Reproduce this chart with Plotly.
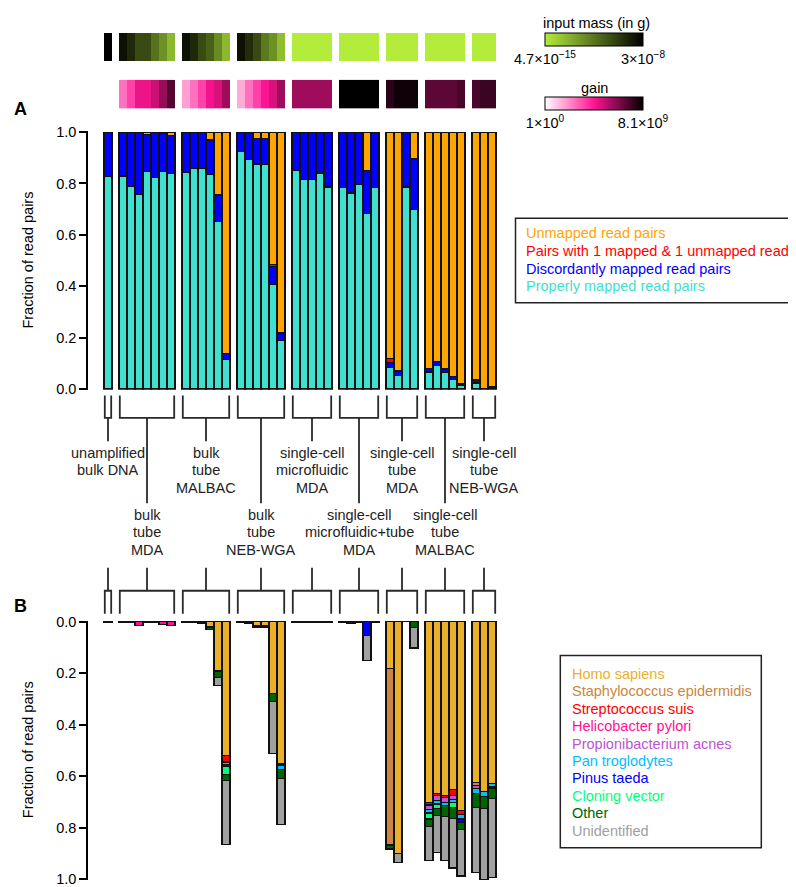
import numpy as np
import plotly.graph_objects as go

W, H = 796, 887
FONT = "Liberation Sans, Arial, Helvetica, sans-serif"
FS = 14.5

# ---------------- data ----------------
group_labels = [
    ["unamplified", "bulk DNA"],
    ["bulk", "tube", "MDA"],
    ["bulk", "tube", "MALBAC"],
    ["bulk", "tube", "NEB-WGA"],
    ["single-cell", "microfluidic", "MDA"],
    ["single-cell", "microfluidic+tube", "MDA"],
    ["single-cell", "tube", "MDA"],
    ["single-cell", "tube", "MALBAC"],
    ["single-cell", "tube", "NEB-WGA"],
]
group_sizes = [1, 7, 6, 6, 5, 5, 4, 5, 3]

# Panel A: fraction of read pairs by mapping status (stack bottom -> top)
properly = [0.827,
            0.829, 0.789, 0.758, 0.847, 0.822, 0.847, 0.838,
            0.844, 0.859, 0.859, 0.835, 0.652, 0.115,
            0.925, 0.893, 0.876, 0.873, 0.407, 0.189,
            0.852, 0.816, 0.815, 0.841, 0.786,
            0.784, 0.763, 0.795, 0.682, 0.784,
            0.083, 0.054, 0.786, 0.700,
            0.066, 0.092, 0.064, 0.038, 0.015,
            0.023, 0.002, 0.005]
discordant = [0.173,
              0.171, 0.211, 0.242, 0.145, 0.178, 0.148, 0.150,
              0.153, 0.138, 0.138, 0.134, 0.102, 0.022,
              0.075, 0.107, 0.100, 0.103, 0.069, 0.028,
              0.148, 0.184, 0.185, 0.159, 0.214,
              0.216, 0.234, 0.205, 0.168, 0.216,
              0.019, 0.016, 0.214, 0.195,
              0.013, 0.014, 0.013, 0.011, 0.004,
              0.012, 0.001, 0.005]
pairs_one = [0,
             0, 0, 0, 0, 0, 0, 0,
             0, 0, 0, 0, 0.002, 0.001,
             0, 0, 0, 0, 0.010, 0.001,
             0, 0, 0, 0, 0,
             0, 0, 0, 0, 0,
             0.017, 0.001, 0, 0,
             0.001, 0.001, 0.001, 0.001, 0.001,
             0.001, 0, 0]
unmapped = [0,
            0, 0, 0, 0.008, 0, 0.005, 0.012,
            0.003, 0.003, 0.003, 0.031, 0.244, 0.862,
            0, 0, 0.024, 0.024, 0.514, 0.782,
            0, 0, 0, 0, 0,
            0, 0.003, 0, 0.150, 0,
            0.881, 0.929, 0, 0.105,
            0.920, 0.893, 0.922, 0.950, 0.980,
            0.964, 0.997, 0.990]

# Panel B: fraction of read pairs by identified organism (stack top -> down)
homo = [0.001,
        0.001, 0.001, 0, 0.001, 0.001, 0, 0,
        0.002, 0.003, 0.005, 0.020, 0.190, 0.519,
        0.003, 0.004, 0.013, 0.013, 0.280, 0.553,
        0.002, 0.002, 0.002, 0.002, 0.002,
        0.002, 0.005, 0.002, 0, 0.002,
        0.183, 0.900, 0, 0,
        0.702, 0.666, 0.674, 0.653, 0.734,
        0.625, 0.658, 0.628]
staph = [0,
         0, 0, 0, 0, 0, 0, 0,
         0, 0, 0, 0, 0, 0,
         0, 0, 0, 0, 0, 0,
         0, 0, 0, 0, 0,
         0, 0, 0, 0, 0,
         0.684, 0, 0, 0,
         0, 0, 0, 0, 0,
         0.010, 0, 0]
strep = [0,
         0, 0, 0, 0, 0, 0, 0,
         0, 0, 0, 0, 0, 0.026,
         0, 0, 0, 0, 0, 0,
         0, 0, 0, 0, 0,
         0, 0, 0, 0, 0,
         0, 0, 0, 0,
         0.010, 0.010, 0.009, 0.021, 0.016,
         0, 0, 0]
heli = [0,
        0, 0, 0.013, 0, 0, 0.012, 0.015,
        0, 0, 0, 0, 0, 0,
        0, 0, 0, 0, 0, 0,
        0, 0, 0, 0, 0,
        0, 0, 0, 0, 0,
        0, 0, 0, 0,
        0, 0, 0, 0, 0,
        0, 0, 0]
prop = [0,
        0, 0, 0, 0, 0, 0, 0,
        0, 0, 0, 0, 0, 0,
        0, 0, 0, 0, 0, 0.006,
        0, 0, 0, 0, 0,
        0, 0, 0, 0, 0,
        0, 0, 0, 0,
        0.018, 0.019, 0.019, 0.016, 0,
        0.013, 0, 0]
pan = [0,
       0, 0, 0, 0, 0, 0, 0,
       0, 0, 0, 0, 0.004, 0.010,
       0, 0, 0, 0, 0, 0.014,
       0, 0, 0, 0, 0,
       0, 0, 0, 0, 0,
       0, 0, 0, 0,
       0.013, 0.013, 0.013, 0.012, 0.016,
       0.018, 0.022, 0.014]
pinus = [0,
         0, 0, 0, 0, 0, 0, 0,
         0, 0, 0, 0, 0, 0.006,
         0, 0, 0, 0, 0, 0,
         0, 0, 0, 0, 0,
         0, 0, 0, 0.053, 0,
         0, 0, 0, 0,
         0, 0, 0, 0, 0.012,
         0, 0, 0.006]
cloning = [0,
           0, 0, 0, 0, 0, 0, 0,
           0, 0, 0, 0, 0, 0.032,
           0, 0, 0, 0, 0, 0,
           0, 0, 0, 0, 0,
           0, 0, 0, 0, 0,
           0, 0, 0, 0,
           0.023, 0.016, 0, 0.019, 0,
           0, 0, 0]
other = [0,
         0, 0, 0, 0, 0, 0, 0,
         0.001, 0, 0.002, 0.009, 0.022, 0.025,
         0, 0.002, 0.007, 0.007, 0.029, 0.037,
         0, 0, 0, 0, 0,
         0, 0, 0, 0, 0,
         0.016, 0, 0, 0.023,
         0.031, 0.028, 0.042, 0.042, 0.028,
         0.055, 0.044, 0.038]
unident = [0,
           0, 0, 0, 0, 0, 0, 0,
           0, 0, 0, 0, 0.031, 0.247,
           0, 0, 0, 0, 0.204, 0.177,
           0, 0, 0, 0, 0,
           0, 0, 0, 0.097, 0,
           0, 0.034, 0, 0.079,
           0.130, 0.145, 0.172, 0.194, 0.182,
           0.252, 0.276, 0.309]

# Sample annotations (colour strips)
input_mass = [3e-8,
              1e-8, 2e-9, 2e-10, 2e-10, 1.5e-11, 2e-12, 1.5e-13,
              1e-8, 2e-9, 2e-10, 5e-11, 3e-12, 1.5e-13,
              1e-8, 1.5e-9, 2e-10, 1e-11, 2e-12, 1e-13,
              4.7e-15, 4.7e-15, 4.7e-15, 4.7e-15, 4.7e-15,
              4.7e-15, 4.7e-15, 4.7e-15, 4.7e-15, 4.7e-15,
              4.7e-15, 4.7e-15, 4.7e-15, 4.7e-15,
              4.7e-15, 4.7e-15, 4.7e-15, 4.7e-15, 4.7e-15,
              4.7e-15, 4.7e-15, 4.7e-15]
gain = [None,
        1e3, 1e4, 2e5, 2e5, 1e6, 1e7, 2e8,
        1e2, 1e3, 1e4, 1.5e5, 5e5, 7e6,
        6e1, 1e3, 1e4, 1e5, 5e5, 7e6,
        7e6, 7e6, 7e6, 7e6, 7e6,
        8.1e9, 8.1e9, 8.1e9, 8.1e9, 8.1e9,
        1.3e9, 4e9, 4e9, 4e9,
        1.3e8, 1.3e8, 1.3e8, 1.3e8, 3e8,
        3e8, 6e8, 6e8]
mass_range = [4.7e-15, 3e-8]
gain_range = [1e0, 8.1e9]
mass_ticktext = ["4.7\u00d710<sup>\u221215</sup>", "3\u00d710<sup>\u22128</sup>"]
gain_ticktext = ["1\u00d710<sup>0</sup>", "8.1\u00d710<sup>9</sup>"]

yticks = [0.0, 0.2, 0.4, 0.6, 0.8, 1.0]
ytick_labels = ["0.0", "0.2", "0.4", "0.6", "0.8", "1.0"]

series_A = [
    ("Properly mapped read pairs", properly, "#40E0D0"),
    ("Discordantly mapped read pairs", discordant, "#0000FF"),
    ("Pairs with 1 mapped & 1 unmapped read", pairs_one, "#FF0000"),
    ("Unmapped read pairs", unmapped, "#FFA500"),
]
series_B = [
    ("Homo sapiens", homo, "#EBB02B"),
    ("Staphylococcus epidermidis", staph, "#CD853F"),
    ("Streptococcus suis", strep, "#FF0000"),
    ("Helicobacter pylori", heli, "#FF1493"),
    ("Propionibacterium acnes", prop, "#BA55D3"),
    ("Pan troglodytes", pan, "#00BFFF"),
    ("Pinus taeda", pinus, "#0000FF"),
    ("Cloning vector", cloning, "#00FF7F"),
    ("Other", other, "#006400"),
    ("Unidentified", unident, "#A0A0A0"),
]


# ---------------- layout helpers ----------------
def px(x):
    return x / W


def py(y):
    return 1 - y / H


GAP = 0.875
lefts, spans = [], []
idx = 0
for k, n in enumerate(group_sizes):
    s = idx + k * GAP
    spans.append((s, s + n))
    lefts += [s + j for j in range(n)]
    idx += n
centers = [l + 0.5 for l in lefts]

# heatmap brick edges with transparent gap cells between groups
edges, z_mass, z_gain = [], [], []
idx = 0
for k, n in enumerate(group_sizes):
    s, e = spans[k]
    for j in range(n):
        edges.append(s + j)
        z_mass.append(float(np.log10(input_mass[idx + j])))
        g = gain[idx + j]
        z_gain.append(None if g is None else float(np.log10(g)))
    if k < len(group_sizes) - 1:
        edges.append(e)
        z_mass.append(None)
        z_gain.append(None)
    idx += n
edges.append(spans[-1][1])

X_RANGE = [-2, 49.25]
X_DOMAIN = [px(80), px(490)]
A_RANGE = [-0.003, 1.004]
A_DOMAIN = [py(380 - A_RANGE[0] * 261), py(380 - A_RANGE[1] * 261)]
B_RANGE = [1.004, -0.004]
B_DOMAIN = [py(616.5 + B_RANGE[0] * 261.5), py(616.5 + B_RANGE[1] * 261.5)]

LINE = dict(color="#111111", width=1.2)
fig = go.Figure()

for name, vals, col in series_A:
    fig.add_trace(go.Bar(x=centers, y=vals, width=1, name=name,
                         marker=dict(color=col, line=LINE),
                         xaxis="x", yaxis="y", showlegend=False))
for name, vals, col in series_B:
    fig.add_trace(go.Bar(x=centers, y=vals, width=1, name=name,
                         marker=dict(color=col, line=LINE),
                         xaxis="x2", yaxis="y2", showlegend=False))

fig.add_trace(go.Heatmap(x=edges, y=[0], z=[z_mass], coloraxis="coloraxis",
                         xaxis="x3", yaxis="y3", hoverinfo="skip"))
fig.add_trace(go.Heatmap(x=edges, y=[0], z=[z_gain], coloraxis="coloraxis2",
                         xaxis="x4", yaxis="y4", hoverinfo="skip"))

mlo, mhi = np.log10(mass_range[0]), np.log10(mass_range[1])
glo, ghi = np.log10(gain_range[0]), np.log10(gain_range[1])

cb_common = dict(orientation="h", x=px(586), xanchor="center", yanchor="top",
                 len=98, lenmode="pixels", thickness=13, thicknessmode="pixels",
                 outlinewidth=1, outlinecolor="black", ticks="", xpad=0, ypad=0,
                 tickfont=dict(size=FS, family=FONT, color="black"))

yaxis_common = dict(showline=True, linecolor="black", linewidth=1.5,
                    ticks="outside", ticklen=7, tickwidth=1.5, tickcolor="black",
                    tickvals=yticks, ticktext=ytick_labels,
                    tickfont=dict(size=FS, family=FONT, color="black"),
                    showgrid=False, zeroline=False)

fig.update_layout(
    width=W, height=H, margin=dict(l=0, r=0, t=0, b=0),
    paper_bgcolor="white", plot_bgcolor="rgba(0,0,0,0)",
    barmode="stack", showlegend=False,
    font=dict(family=FONT, size=FS, color="#222222"),
    xaxis=dict(domain=X_DOMAIN, range=X_RANGE, visible=False, anchor="y"),
    yaxis=dict(domain=A_DOMAIN, range=A_RANGE, anchor="x", **yaxis_common),
    xaxis2=dict(domain=X_DOMAIN, range=X_RANGE, visible=False, anchor="y2"),
    yaxis2=dict(domain=B_DOMAIN, range=B_RANGE, anchor="x2", **yaxis_common),
    xaxis3=dict(domain=X_DOMAIN, range=X_RANGE, visible=False, anchor="y3"),
    yaxis3=dict(domain=[py(46.7), py(18.3)], visible=False, anchor="x3"),
    xaxis4=dict(domain=X_DOMAIN, range=X_RANGE, visible=False, anchor="y4"),
    yaxis4=dict(domain=[py(95.0), py(65.7)], visible=False, anchor="x4"),
    coloraxis=dict(colorscale=[[0, "#B3EC3B"], [1, "#000000"]], cmin=mlo, cmax=mhi,
                   colorbar=dict(y=py(18.3), tickvals=[mlo, mhi],
                                 ticktext=mass_ticktext, **cb_common)),
    coloraxis2=dict(colorscale=[[0, "#FFFFFF"], [0.5, "#FF1493"], [1, "#000000"]],
                    cmin=glo, cmax=ghi,
                    colorbar=dict(y=py(83.3), tickvals=[glo, ghi],
                                  ticktext=gain_ticktext, **cb_common)),
)

shapes, annotations = [], []
BR = dict(color="#2a2a2a", width=1.8)
inset = 0.1
LH = 17.8
for k, (s, e) in enumerate(spans):
    L, R = s + inset, e - inset
    C = (s + e) / 2
    stem_end = 433 if k % 2 == 0 else 496
    shapes.append(dict(type="path", xref="x", yref="paper", line=BR,
                       path=(f"M {L},{py(386.7)} L {L},{py(409.3)} L {R},{py(409.3)} "
                             f"L {R},{py(386.7)} M {C},{py(409.3)} L {C},{py(stem_end)}")))
    shapes.append(dict(type="path", xref="x", yref="paper", line=BR,
                       path=(f"M {C},{py(561.7)} L {C},{py(585)} M {L},{py(608.3)} "
                             f"L {L},{py(585)} L {R},{py(585)} L {R},{py(608.3)}")))
    first = 445.0 if k % 2 == 0 else 507.7
    for i, line in enumerate(group_labels[k]):
        annotations.append(dict(x=C, y=py(first + i * LH), xref="x", yref="paper",
                                text=line, showarrow=False, xanchor="center",
                                yanchor="middle",
                                font=dict(size=FS, family=FONT, color="#222222")))

# legend boxes
shapes.append(dict(type="rect", xref="paper", yref="paper", x0=px(507.5), x1=px(793),
                   y0=py(292.3), y1=py(206.5), line=dict(color="#222222", width=1.5)))
shapes.append(dict(type="rect", xref="paper", yref="paper", x0=px(552.3), x1=px(753.3),
                   y0=py(846), y1=py(650.7), line=dict(color="#222222", width=1.5)))

for i, (name, _, col) in enumerate(reversed(series_A)):
    annotations.append(dict(x=px(516), y=py(222.0 + i * 17.9), xref="paper", yref="paper",
                            text=name, showarrow=False, xanchor="left", yanchor="middle",
                            font=dict(size=FS, family=FONT, color=col)))
for i, (name, _, col) in enumerate(series_B):
    annotations.append(dict(x=px(561.5), y=py(669.3 + i * 17.73), xref="paper", yref="paper",
                            text=name, showarrow=False, xanchor="left", yanchor="middle",
                            font=dict(size=FS, family=FONT, color=col)))

# colour bar titles
annotations.append(dict(x=px(588), y=py(8.5), xref="paper", yref="paper", text="input mass (in g)",
                        showarrow=False, xanchor="center", yanchor="middle",
                        font=dict(size=FS, family=FONT, color="black")))
annotations.append(dict(x=px(586), y=py(74), xref="paper", yref="paper", text="gain",
                        showarrow=False, xanchor="center", yanchor="middle",
                        font=dict(size=FS, family=FONT, color="black")))

# axis titles and panel letters
for yc in (249.5, 747):
    annotations.append(dict(x=px(20), y=py(yc), xref="paper", yref="paper",
                            text="Fraction of read pairs", textangle=-90, showarrow=False,
                            xanchor="center", yanchor="middle",
                            font=dict(size=FS, family=FONT, color="black")))
for letter, yc in (("A", 96), ("B", 600)):
    annotations.append(dict(x=px(12), y=py(yc), xref="paper", yref="paper",
                            text=f"<b>{letter}</b>", showarrow=False,
                            xanchor="center", yanchor="middle",
                            font=dict(size=18, family=FONT, color="black")))

fig.update_layout(shapes=shapes, annotations=annotations)
fig.write_html("out.html")
